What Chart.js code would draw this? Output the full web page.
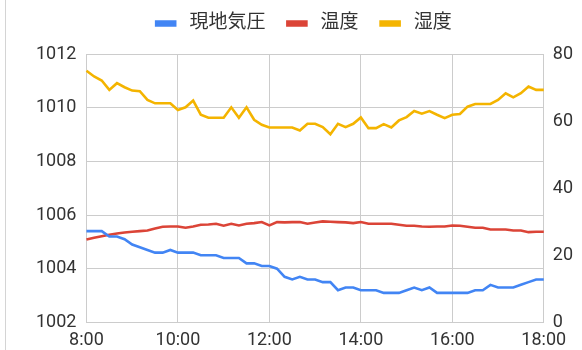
<!DOCTYPE html>
<html>
<head>
<meta charset="utf-8">
<script src="https://cdn.jsdelivr.net/npm/chart.js@4.4.1/dist/chart.umd.min.js"></script>
<style>
    html, body { margin: 0; padding: 0; background: #fff; overflow: hidden; }
    #wrap { position: relative; width: 582px; height: 358px; }
    #edge { position: absolute; left: 5px; top: 0; width: 1px; height: 350px; background: #d4d4d4; }
</style>
</head>
<body>
<div id="wrap">
    <div id="edge"></div>
    <canvas id="chart"></canvas>
</div>
<script>
// 10-minute readings, 8:00 - 18:00
const pressure = [
    1005.4, 1005.4, 1005.4, 1005.2, 1005.2, 1005.1, 1004.9, 1004.8, 1004.7, 1004.6,
    1004.6, 1004.7, 1004.6, 1004.6, 1004.6, 1004.5, 1004.5, 1004.5, 1004.4, 1004.4,
    1004.4, 1004.2, 1004.2, 1004.1, 1004.1, 1004.0, 1003.7, 1003.6, 1003.7, 1003.6,
    1003.6, 1003.5, 1003.5, 1003.2, 1003.3, 1003.3, 1003.2, 1003.2, 1003.2, 1003.1,
    1003.1, 1003.1, 1003.2, 1003.3, 1003.2, 1003.3, 1003.1, 1003.1, 1003.1, 1003.1,
    1003.1, 1003.2, 1003.2, 1003.4, 1003.3, 1003.3, 1003.3, 1003.4, 1003.5, 1003.6,
    1003.6
];
const temperature = [
    24.7, 25.2, 25.7, 26.1, 26.5, 26.8, 27.0, 27.2, 27.4, 28.0,
    28.5, 28.6, 28.6, 28.2, 28.6, 29.1, 29.2, 29.4, 28.8, 29.4,
    28.9, 29.4, 29.6, 29.9, 28.9, 29.9, 29.8, 29.9, 29.9, 29.4,
    29.8, 30.1, 30.0, 29.9, 29.8, 29.6, 29.9, 29.4, 29.4, 29.4,
    29.4, 29.1, 28.8, 28.8, 28.6, 28.5, 28.6, 28.6, 28.9, 28.8,
    28.5, 28.2, 28.2, 27.7, 27.7, 27.7, 27.4, 27.4, 26.9, 27.0,
    27.0
];
const humidity = [
    75.0, 73.3, 72.1, 69.3, 71.3, 70.1, 69.1, 68.9, 66.3, 65.3,
    65.3, 65.3, 63.3, 64.1, 66.1, 61.9, 61.0, 61.0, 61.0, 64.1,
    61.0, 64.1, 60.4, 58.9, 58.1, 58.1, 58.1, 58.1, 57.2, 59.2,
    59.2, 58.2, 56.1, 59.2, 58.2, 59.2, 61.1, 57.9, 57.9, 59.1,
    58.1, 60.2, 61.2, 63.0, 62.2, 63.0, 61.9, 60.9, 61.9, 62.1,
    64.3, 65.1, 65.1, 65.1, 66.3, 68.3, 67.1, 68.3, 70.3, 69.3,
    69.3
];
const seriesNames = ['現地気圧', '温度', '湿度'];
const colors = ['#4285f4', '#db4437', '#f4b400'];

// time labels for each reading
const times = pressure.map((_, i) => {
    const m = 8 * 60 + i * 10;
    return Math.floor(m / 60) + ':' + String(m % 60).padStart(2, '0');
});

const FONT = 'Roboto, "Noto Sans CJK JP", sans-serif';
const GRID = '#cccccc';
const TEXT = '#333333';

// extra room between the legend and the plot
const legendGap = {
    id: 'legendGap',
    beforeInit(chart) {
        const fit = chart.legend.fit;
        chart.legend.fit = function () {
            fit.call(this);
            this.height += 11;
        };
    }
};

function line(label, data, color, axis) {
    return {
        label: label,
        data: data,
        yAxisID: axis,
        borderColor: color,
        backgroundColor: color,
        borderWidth: 2.6,
        pointRadius: 0,
        tension: 0,
        fill: false
    };
}

new Chart(document.getElementById('chart'), {
    type: 'line',
    data: {
        labels: times,
        datasets: [
            line(seriesNames[0], pressure, colors[0], 'yP'),
            line(seriesNames[1], temperature, colors[1], 'yR'),
            line(seriesNames[2], humidity, colors[2], 'yR')
        ]
    },
    plugins: [legendGap],
    options: {
        responsive: true,
        maintainAspectRatio: false,
        animation: false,
        layout: { padding: { left: 26, right: 0, top: -8, bottom: 0 } },
        plugins: {
            legend: {
                position: 'top',
                labels: {
                    boxWidth: 19,
                    boxHeight: 4,
                    padding: 22,
                    color: TEXT,
                    font: { family: FONT, size: 19 },
                    generateLabels: chart => Chart.defaults.plugins.legend.labels
                        .generateLabels(chart)
                        .map(item => Object.assign(item, { text: ' ' + item.text }))
                }
            },
            tooltip: { enabled: false }
        },
        scales: {
            x: {
                offset: false,
                grid: { color: GRID, drawTicks: false },
                border: { color: GRID },
                ticks: {
                    autoSkip: false,
                    maxRotation: 0,
                    padding: 7,
                    color: TEXT,
                    font: { family: FONT, size: 18 },
                    callback: (v, i) => (i % 12 === 0 ? times[i] : null)
                }
            },
            yP: {
                position: 'left',
                min: 1002,
                max: 1012,
                grid: { color: GRID, drawTicks: false },
                border: { color: GRID },
                ticks: {
                    stepSize: 2,
                    padding: 10,
                    color: TEXT,
                    font: { family: FONT, size: 18 },
                    callback: v => String(v)
                }
            },
            yR: {
                position: 'right',
                min: 0,
                max: 80,
                grid: { drawOnChartArea: false, drawTicks: false },
                border: { color: GRID },
                ticks: {
                    stepSize: 20,
                    padding: 9,
                    color: TEXT,
                    font: { family: FONT, size: 18 }
                }
            }
        }
    }
});
</script>
</body>
</html>
